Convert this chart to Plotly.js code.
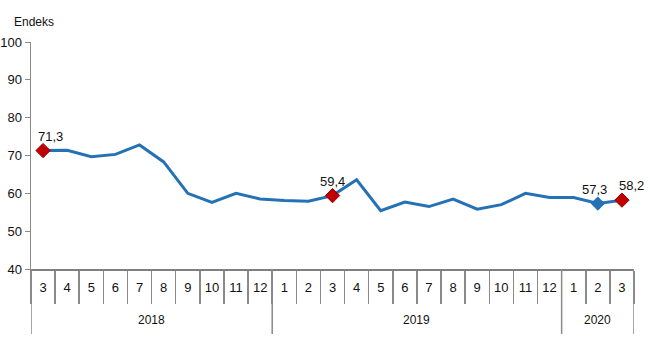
<!DOCTYPE html>
<html><head><meta charset="utf-8">
<script src="https://cdn.plot.ly/plotly-3.0.1.min.js"></script>
<style>html,body{margin:0;padding:0;background:#fff}#c{width:650px;height:360px}</style>
</head><body><div id="c"></div>
<script>
const years = ["2018","2018","2018","2018","2018","2018","2018","2018","2018","2018",
  "2019","2019","2019","2019","2019","2019","2019","2019","2019","2019","2019","2019",
  "2020","2020","2020"];
const months = ["3","4","5","6","7","8","9","10","11","12",
  "1","2","3","4","5","6","7","8","9","10","11","12",
  "1","2","3"];
const values = [71.3,71.4,69.7,70.3,72.8,68.3,60.0,57.6,60.0,58.5,
  58.1,57.9,59.4,63.6,55.4,57.7,56.5,58.5,55.8,57.0,60.0,58.9,
  58.9,57.3,58.2];
const redIdx = [0,12,24];
const blueIdx = [23];
const labelIdx = [0,12,23,24];
const labelShift = [7,0,-3,10];

const FONT = 'Liberation Sans, Arial, sans-serif';
const fmt = v => v.toFixed(1).replace('.', ',');
const idx = months.map((_, i) => i);
const pick = (arr, ids) => ids.map(i => arr[i]);

// year groups
const groups = [];
years.forEach((y, i) => {
  if (!groups.length || groups[groups.length-1].year !== y) groups.push({year:y, start:i, end:i});
  else groups[groups.length-1].end = i;
});

const lineColor = '#2472B5';
const traces = [
  {type:'scatter', mode:'lines', x:idx, y:values,
   line:{color:lineColor, width:3}, hoverinfo:'skip'},
  {type:'scatter', mode:'markers', x:redIdx, y:pick(values,redIdx),
   marker:{symbol:'diamond', size:11, color:'#C00000', line:{color:'#9B0000', width:1}}},
  {type:'scatter', mode:'markers', x:blueIdx, y:pick(values,blueIdx),
   marker:{symbol:'diamond', size:11, color:lineColor}}
];

const annotations = labelIdx.map((i,k) => ({
  x: i, y: values[i], xref:'x', yref:'y', text: fmt(values[i]), showarrow:false,
  yanchor:'bottom', yshift:5, xshift: labelShift[k],
  font:{family:FONT, size:13, color:'#111'}
}));
annotations.push({x:0, y:1, xref:'paper', yref:'paper', xshift:-19, yshift:11, text:'Endeks', showarrow:false,
  xanchor:'left', yanchor:'bottom', font:{family:FONT, size:12, color:'#111'}});
groups.forEach(g => annotations.push({
  x:(g.start+g.end)/2, y:-0.2247, xref:'x', yref:'paper', text:g.year, showarrow:false,
  yanchor:'middle', font:{family:FONT, size:12, color:'#111'}
}));

const shapes = [];
const yearBounds = [groups[0].start - 0.5].concat(groups.map(g => g.end + 0.5));
yearBounds.forEach(b => shapes.push({type:'line', xref:'x', yref:'paper', x0:b, x1:b, y0:0, y1:-0.286,
  line:{color:'#8a8a8a', width:1.5}}));

const bounds = idx.concat([idx.length]).map(i => i - 0.5);

const layout = {
  width:650, height:360,
  margin:{l:31, r:16, t:42, b:91},
  showlegend:false,
  paper_bgcolor:'#fff', plot_bgcolor:'#fff',
  font:{family:FONT, size:13, color:'#111'},
  xaxis:{range:[-0.5, idx.length-0.5], showgrid:false, zeroline:false,
    showline:true, linecolor:'#7f7f7f', linewidth:1.5,
    tickmode:'array', tickvals:idx, ticktext:months, ticks:'', ticklabelstandoff:6,
    tickfont:{family:FONT, size:13, color:'#111'},
    minor:{tickmode:'array', tickvals:bounds, ticks:'outside', ticklen:33, tickcolor:'#8a8a8a', tickwidth:1.5, showgrid:false}},
  yaxis:{range:[40,100], dtick:10, showgrid:false, zeroline:false,
    showline:true, linecolor:'#8a8a8a', linewidth:1.5,
    ticks:'outside', ticklen:5, tickcolor:'#8a8a8a',
    tickfont:{family:FONT, size:13, color:'#111'}},
  annotations: annotations,
  shapes: shapes
};
Plotly.newPlot('c', traces, layout, {displayModeBar:false, staticPlot:true});
</script></body></html>
